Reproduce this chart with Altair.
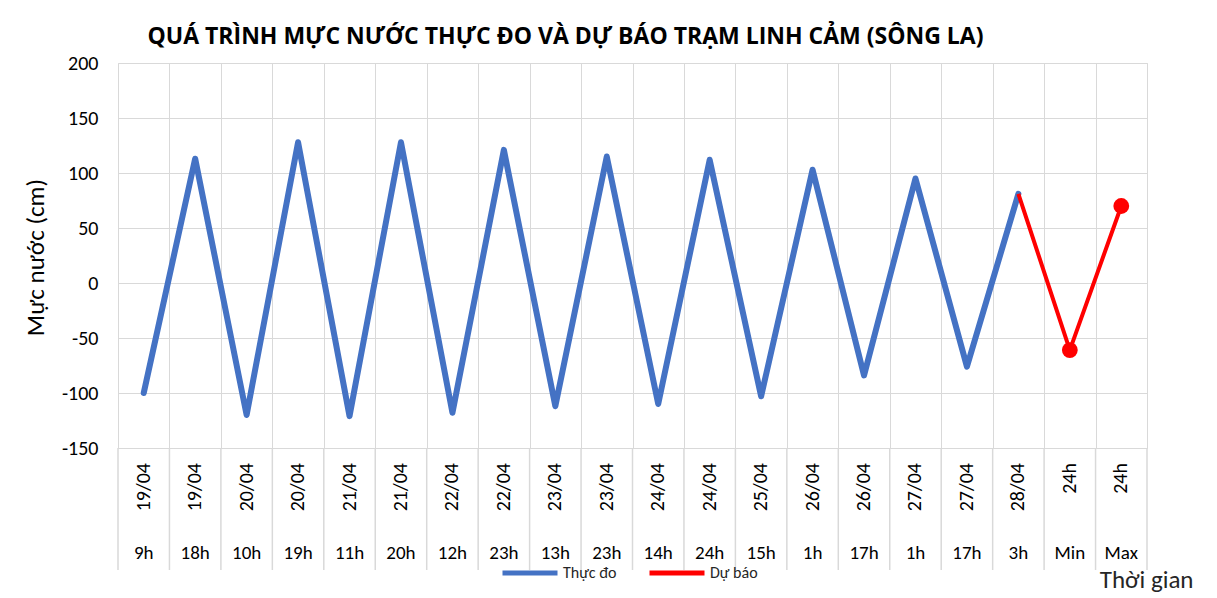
import altair as alt
import pandas as pd

# ---- data ----
dates = ["19/04", "19/04", "20/04", "20/04", "21/04", "21/04", "22/04", "22/04",
         "23/04", "23/04", "24/04", "24/04", "25/04", "26/04", "26/04", "27/04",
         "27/04", "28/04", "24h", "24h"]
hours = ["9h", "18h", "10h", "19h", "11h", "20h", "12h", "23h", "13h", "23h",
         "14h", "24h", "15h", "1h", "17h", "1h", "17h", "3h", "Min", "Max"]
actual = [-100, 113, -120, 128, -121, 128, -118, 121, -112, 115,
          -110, 112, -103, 103, -84, 95, -76, 81]
forecast_idx = [17, 18, 19]
forecast = [81, -61, 70]
forecast_marker = [False, True, True]
y_ticks = [-150, -100, -50, 0, 50, 100, 150, 200]

cats = pd.DataFrame({"idx": list(range(len(dates))), "date": dates, "hour": hours})
act_df = pd.DataFrame({"idx": list(range(len(actual))), "value": actual,
                       "series": ["Thực đo"] * len(actual)})
fc_df = pd.DataFrame({"idx": forecast_idx, "value": forecast,
                      "series": ["Dự báo"] * len(forecast), "marker": forecast_marker})
bounds = pd.DataFrame({"b": [i - 0.5 for i in range(len(dates) + 1)]})
grid_vals = [i * 0.5 - 0.5 for i in range(2 * len(dates) + 1)]

W, H = 1029, 385
FONT = "Carlito, Calibri, 'Liberation Sans', Arial, sans-serif"
GRID = "#d9d9d9"

x_scale = alt.Scale(domain=[-0.5, len(dates) - 0.5], nice=False, zero=False)
y_scale = alt.Scale(domain=[-150, 200], nice=False, zero=False)

x_axis = alt.Axis(values=grid_vals, labels=False, ticks=False, domain=False,
                  grid=True, gridColor=GRID, gridWidth=1,
                  title="Thời gian", titleX=W + 46, titleY=131, titleAlign="right",
                  titleBaseline="middle", titleFontSize=25, titleFontWeight="normal",
                  titleFont=FONT, titleColor="#262626")
y_axis = alt.Axis(values=y_ticks, ticks=False, domain=False, grid=True, gridColor=GRID,
                  labelExpr="datum.value < 0 ? '-' + abs(datum.value) : '' + datum.value",
                  labelFontSize=20, labelFont=FONT, labelColor="#000000", labelPadding=20,
                  title="Mực nước (cm)", titleFontSize=25, titleFont=FONT,
                  titleFontWeight="normal", titleColor="#000000",
                  titleX=-83, titleY=194, titleAlign="center", titleBaseline="middle")

color = alt.Color("series:N",
                  scale=alt.Scale(domain=["Thực đo", "Dự báo"], range=["#4472C4", "#FF0000"]),
                  legend=alt.Legend(orient="none", legendX=382, legendY=480, direction="horizontal",
                                    title=None, symbolType="stroke", symbolSize=3025,
                                    symbolStrokeWidth=5, labelFontSize=16, labelFont=FONT,
                                    labelColor="#262626", labelOffset=3, columnPadding=22))

base_grid = alt.Chart(act_df).mark_line(opacity=0).encode(
    x=alt.X("idx:Q", scale=x_scale, axis=x_axis),
    y=alt.Y("value:Q", scale=y_scale, axis=y_axis),
)

actual_line = alt.Chart(act_df).mark_line(strokeWidth=6, strokeJoin="round", strokeCap="round").encode(
    x=alt.X("idx:Q", scale=x_scale),
    y=alt.Y("value:Q", scale=y_scale),
    color=color,
)

fc_line = alt.Chart(fc_df).mark_line(strokeWidth=4, strokeJoin="round").encode(
    x=alt.X("idx:Q", scale=x_scale),
    y=alt.Y("value:Q", scale=y_scale),
    color=color,
)

fc_pts = alt.Chart(fc_df).transform_filter("datum.marker").mark_circle(size=250, opacity=1, color="#FF0000").encode(
    x=alt.X("idx:Q", scale=x_scale),
    y=alt.Y("value:Q", scale=y_scale),
)

separators = alt.Chart(bounds).mark_rule(color=GRID, strokeWidth=1.5).encode(
    x=alt.X("b:Q", scale=x_scale),
    y=alt.value(H),
    y2=alt.value(H + 122),
)

date_labels = alt.Chart(cats).mark_text(angle=270, align="right", baseline="middle",
                                         fontSize=20, font=FONT, color="#000000").encode(
    x=alt.X("idx:Q", scale=x_scale),
    y=alt.value(H + 15),
    text="date:N",
)

hour_labels = alt.Chart(cats).mark_text(align="center", baseline="middle",
                                         fontSize=19, font=FONT, color="#000000").encode(
    x=alt.X("idx:Q", scale=x_scale),
    y=alt.value(H + 105),
    text="hour:N",
)

chart = alt.layer(base_grid, separators, actual_line, fc_line, fc_pts, date_labels, hour_labels).properties(
    width=W, height=H,
    title=alt.Title("QUÁ TRÌNH MỰC NƯỚC THỰC ĐO VÀ DỰ BÁO TRẠM LINH CẢM (SÔNG LA)",
                    anchor="middle", dx=-67, offset=4, fontSize=23,
                    font="'Open Sans', sans-serif", fontWeight="bold", color="#000000"),
    autosize=alt.AutoSizeParams(type="none"),
    padding={"left": 110, "top": 55, "right": 55, "bottom": 145},
).configure_view(stroke=GRID, strokeWidth=1).configure(background="white")

chart.save("out.html", embed_options={"renderer": "svg", "actions": False})
